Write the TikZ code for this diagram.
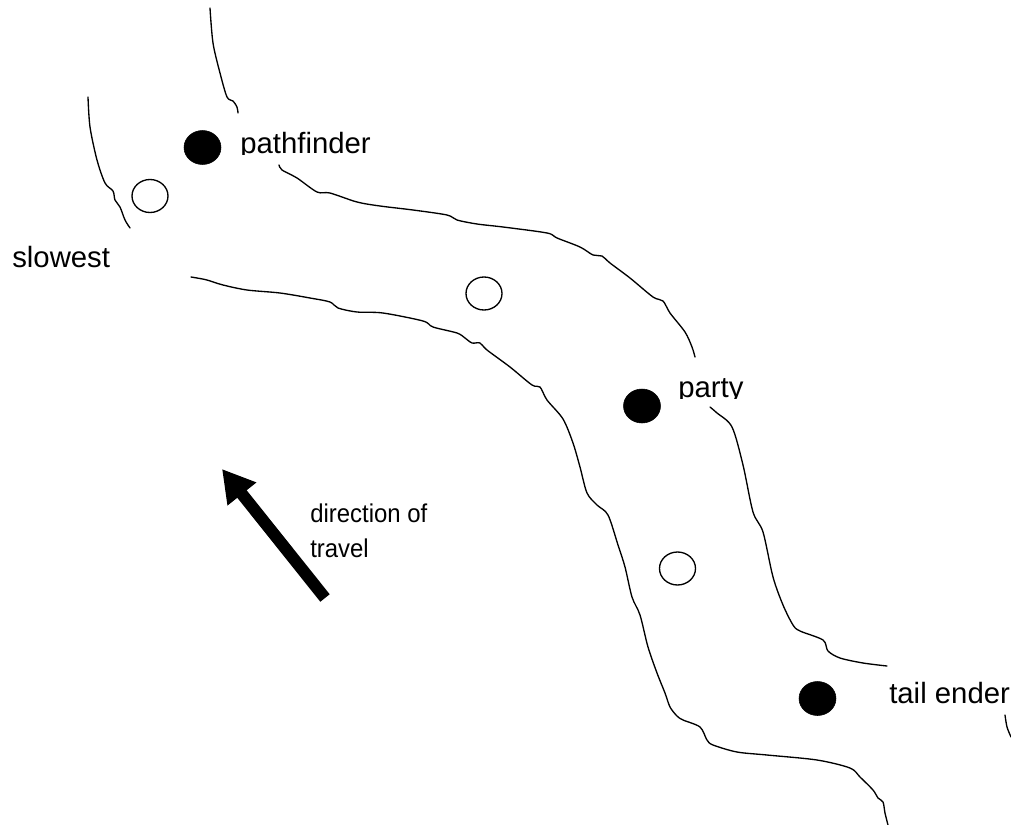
\documentclass[tikz,border=0pt]{standalone}
\usepackage{fontspec}
\setmainfont{Liberation Sans}
\newfontfamily\narrowfont[FakeStretch=0.93]{Liberation Sans}
\usetikzlibrary{shapes.geometric,arrows.meta}
\tikzset{
  bank/.style={line width=1pt, line join=round, line cap=round},
  walker/.style={ellipse, draw=black, line width=1pt, inner sep=0pt, minimum width=27pt, minimum height=24.75pt},
  leader/.style={ellipse, draw=black, fill=black, inner sep=0pt, minimum width=27.75pt, minimum height=25.5pt},
  lbl/.style={anchor=base west, inner sep=0pt, font=\fontsize{22}{26}\selectfont},
  dirlbl/.style={anchor=base west, inner sep=0pt, font=\narrowfont\fontsize{19.3}{26}\selectfont},
}
\begin{document}
\begin{tikzpicture}[x=0.75pt, y=-0.75pt]
\clip (0,0) rectangle (1011,825);
\fill[white] (0,0) rectangle (1011,825);

% upper / right bank
\draw[bank] plot[smooth, tension=0.5] coordinates {(210,8) (213,43) (220,73) (227,97) (233,101) (237,107) (238,113)};
\draw[bank] plot[smooth, tension=0.5] coordinates {(279,165) (282,170) (297,178) (317,192) (330,193) (357,202) (380,206) (413,210) (447,215) (457,220) (477,224) (503,227) (547,233) (557,238) (580,247) (593,255) (602,256) (610,263) (630,278) (653,297) (663,301) (670,313) (685,332) (692,347) (695,357)};
\draw[bank] plot[smooth, tension=0.5] coordinates {(710,407) (717,413) (732,427) (743,465) (753,512) (763,532) (773,577) (783,605) (793,625) (800,631) (823,640) (828,651) (840,658) (863,663) (887,666)};

% lower / left bank
\draw[bank] plot[smooth, tension=0.5] coordinates {(88,97) (90,127) (97,160) (105,183) (113,191) (115,200) (120,207) (125,220) (130,228)};
\draw[bank] plot[smooth, tension=0.5] coordinates {(191,277) (197,278) (207,280) (223,285) (247,290) (280,293) (310,298) (330,302) (338,308) (357,312) (383,313) (423,321) (433,327) (457,333) (465,338) (472,343) (480,343) (487,350) (510,367) (532,385) (540,387) (547,400) (563,419) (573,443) (580,467) (587,493) (597,505) (608,515) (618,545) (625,567) (632,597) (640,615) (648,647) (657,673) (665,693) (670,707) (677,716) (683,720) (700,727) (707,740) (713,745) (737,752) (767,755) (817,760) (850,768) (860,777) (873,790) (878,798) (883,802) (885,813) (888,825)};

% far right fragment
\draw[bank] plot[smooth, tension=0.5] coordinates {(1005,715) (1007,727) (1011,737)};

% walkers
\node[leader] (pf) at (202.5,147.5) {};
\node[walker] (w1) at (150,196) {};
\node[walker] (w2) at (484,293.5) {};
\node[leader] (pt) at (642,406) {};
\node[walker] (w3) at (677.5,568.5) {};
\node[leader] (te) at (817.5,698.5) {};

% labels
\begin{scope}
\clip (230,110) rectangle (400,154);
\node[lbl] (tpf) at (240,153) {pathfinder};
\end{scope}
\node[lbl] (tsl) at (12,267) {slowest};
\begin{scope}
\clip (670,360) rectangle (760,398);
\node[lbl] (tpt) at (678,397) {party};
\end{scope}
\node[lbl] (tte) at (889,703) {tail ender};

% direction of travel
\coordinate (atail) at (325,598);
\coordinate (atip) at (222,469);
\draw[line width=9pt, -{Triangle[length=24pt 0 0, width=26pt 0 0]}] (atail) -- (atip);
\node[dirlbl] (td1) at (310,522) {direction of};
\node[dirlbl] (td2) at (310,557) {travel};
\end{tikzpicture}
\end{document}
